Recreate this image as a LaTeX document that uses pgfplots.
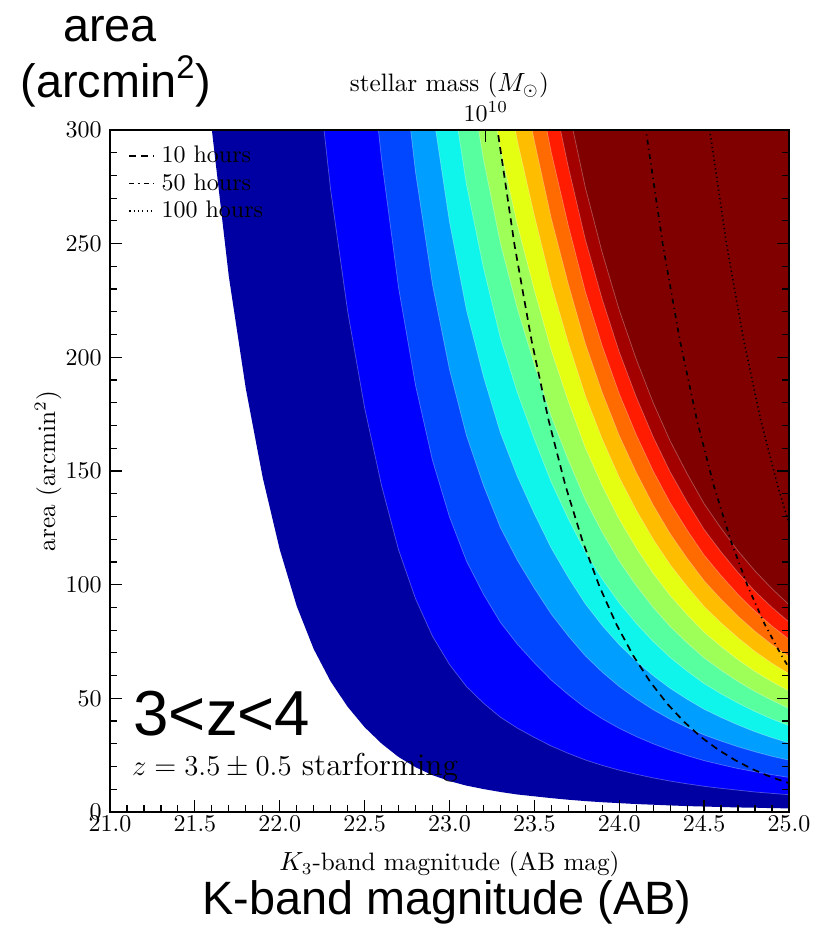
\documentclass[border=0pt]{standalone}
\usepackage{fontspec}
\usepackage{pgfplots}
\usepackage{pgfplotstable}
\pgfplotsset{compat=1.18}
\newfontfamily\arial{Liberation Sans}

\definecolor{c1}{rgb}{0,0,0.634}
\definecolor{c2}{rgb}{0,0,1}
\definecolor{c3}{rgb}{0,0.28,1}
\definecolor{c4}{rgb}{0,0.62,1}
\definecolor{c5}{rgb}{0.06,0.96,0.92}
\definecolor{c6}{rgb}{0.345,1,0.623}
\definecolor{c7}{rgb}{0.621,1,0.347}
\definecolor{c8}{rgb}{0.897,1,0.071}
\definecolor{c9}{rgb}{1,0.74,0}
\definecolor{c10}{rgb}{1,0.42,0}
\definecolor{c11}{rgb}{1,0.11,0}
\definecolor{c12}{rgb}{0.64,0,0}
\definecolor{c13}{rgb}{0.5,0,0}

% band boundaries: area (arcmin^2) versus K magnitude, values above the plot capped at 400
\pgfplotstableread{
m    b1    b2    b3    b4    b5    b6    b7    b8    b9    b10   b11   b12   b13
21.5 382.2 400   400   400   400   400   400   400   400   400   400   400   400
21.6 300.1 400   400   400   400   400   400   400   400   400   400   400   400
21.7 235.6 400   400   400   400   400   400   400   400   400   400   400   400
21.8 186.3 400   400   400   400   400   400   400   400   400   400   400   400
21.9 147.0 400   400   400   400   400   400   400   400   400   400   400   400
22.0 115.5 400   400   400   400   400   400   400   400   400   400   400   400
22.1 90.6  400   400   400   400   400   400   400   400   400   400   400   400
22.2 71.7  341.2 400   400   400   400   400   400   400   400   400   400   400
22.3 57.4  273.5 400   400   400   400   400   400   400   400   400   400   400
22.4 46.3  220.3 400   400   400   400   400   400   400   400   400   400   400
22.5 37.3  177.8 355.6 400   400   400   400   400   400   400   400   400   400
22.6 30.1  143.5 287.0 400   400   400   400   400   400   400   400   400   400
22.7 24.2  115.3 230.6 345.9 400   400   400   400   400   400   400   400   400
22.8 19.7  93.8  187.6 281.4 375.2 400   400   400   400   400   400   400   400
22.9 16.2  77.3  154.6 231.9 309.2 386.5 400   400   400   400   400   400   400
23.0 13.6  64.9  129.8 194.7 259.6 324.5 389.4 400   400   400   400   400   400
23.1 11.6  55.2  110.4 165.6 220.8 276.0 331.2 386.4 400   400   400   400   400
23.2 10.1  47.9  95.8  143.7 191.6 239.5 287.4 335.3 383.2 400   400   400   400
23.3 8.8   41.7  83.4  125.1 166.8 208.5 250.2 291.9 333.6 375.3 400   400   400
23.4 7.7   36.9  73.8  110.7 147.6 184.5 221.4 258.3 295.2 332.1 369.0 400   400
23.5 6.9   32.8  65.6  98.4  131.2 164.0 196.8 229.6 262.4 295.2 328.0 360.8 393.6
23.6 6.1   29.0  58.0  87.0  116.0 145.0 174.0 203.0 232.0 261.0 290.0 319.0 348.0
23.7 5.4   25.8  51.6  77.4  103.2 129.0 154.8 180.6 206.4 232.2 258.0 283.8 309.6
23.8 4.8   22.9  45.8  68.7  91.6  114.5 137.4 160.3 183.2 206.1 229.0 251.9 274.8
23.9 4.3   20.5  41.0  61.5  82.0  102.5 123.0 143.5 164.0 184.5 205.0 225.5 246.0
24.0 3.9   18.4  36.8  55.2  73.6  92.0  110.4 128.8 147.2 165.6 184.0 202.4 220.8
24.1 3.5   16.6  33.2  49.8  66.4  83.0  99.6  116.2 132.8 149.4 166.0 182.6 199.2
24.2 3.2   15.0  30.0  45.0  60.0  75.0  90.0  105.0 120.0 135.0 150.0 165.0 180.0
24.3 2.9   13.6  27.2  40.8  54.4  68.0  81.6  95.2  108.8 122.4 136.0 149.6 163.2
24.4 2.6   12.4  24.8  37.2  49.6  62.0  74.4  86.8  99.2  111.6 124.0 136.4 148.8
24.5 2.4   11.3  22.6  33.9  45.2  56.5  67.8  79.1  90.4  101.7 113.0 124.3 135.6
24.6 2.2   10.4  20.8  31.2  41.6  52.0  62.4  72.8  83.2  93.6  104.0 114.4 124.8
24.7 2.0   9.6   19.1  28.7  38.3  47.9  57.4  67.0  76.6  86.1  95.7  105.3 114.8
24.8 1.9   8.8   17.7  26.5  35.3  44.2  53.0  61.8  70.6  79.5  88.3  97.1  106.0
24.9 1.7   8.2   16.4  24.5  32.7  40.9  49.1  57.3  65.4  73.6  81.8  90.0  98.2
25.0 1.6   7.6   15.2  22.8  30.4  38.0  45.6  53.2  60.8  68.4  76.0  83.6  91.2
25.5 400   400   400   400   400   400   400   400   400   400   400   400   400
}\bands

\begin{document}
\begin{tikzpicture}
\useasboundingbox (-45.83pt,-47.5pt) rectangle (294.17pt,338.33pt);
\begin{axis}[
  width=282.9pt, height=284.2pt, scale only axis,
  xmin=21, xmax=25, ymin=0, ymax=300,
  xtick={21,21.5,22,22.5,23,23.5,24,24.5,25},
  ytick={0,50,100,150,200,250,300},
  minor x tick num=4, minor y tick num=4,
  xtick pos=left, ytick pos=both, yticklabel pos=left,
  tick align=inside,
  major tick length=5pt, minor tick length=2.8pt,
  every tick/.style={black, line width=0.5pt},
  axis line style={line width=0.8pt},
  axis on top,
  x tick label style={/pgf/number format/fixed, /pgf/number format/fixed zerofill, /pgf/number format/precision=1, yshift=2pt},
  xlabel={$K_3$-band magnitude (AB mag)},
  ylabel={area (arcmin$^2$)},
  xlabel style={at={(axis description cs:0.5,-0.0852)}, anchor=base, font=\fontsize{10.5}{12}\selectfont},
  ylabel style={at={(axis description cs:-0.0912,0.5)}, anchor=center, font=\fontsize{10.5}{12}\selectfont},
  legend style={draw=none, fill=none, at={(axis description cs:0,1)}, anchor=north west,
    xshift=7.5pt, yshift=-5pt, inner xsep=0pt, inner ysep=0pt, row sep=0pt, column sep=1.2pt,
    nodes={inner sep=1.5pt, text depth=0.15em}},
  legend cell align=left,
  legend image code/.code={\draw[#1] (0pt,0pt) -- (10.4pt,0pt);},
]
\addplot[fill=c1, draw=none, forget plot] table[x=m,y=b1]{\bands} -- cycle;
\addplot[fill=c2, draw=none, forget plot] table[x=m,y=b2]{\bands} -- cycle;
\addplot[fill=c3, draw=none, forget plot] table[x=m,y=b3]{\bands} -- cycle;
\addplot[fill=c4, draw=none, forget plot] table[x=m,y=b4]{\bands} -- cycle;
\addplot[fill=c5, draw=none, forget plot] table[x=m,y=b5]{\bands} -- cycle;
\addplot[fill=c6, draw=none, forget plot] table[x=m,y=b6]{\bands} -- cycle;
\addplot[fill=c7, draw=none, forget plot] table[x=m,y=b7]{\bands} -- cycle;
\addplot[fill=c8, draw=none, forget plot] table[x=m,y=b8]{\bands} -- cycle;
\addplot[fill=c9, draw=none, forget plot] table[x=m,y=b9]{\bands} -- cycle;
\addplot[fill=c10, draw=none, forget plot] table[x=m,y=b10]{\bands} -- cycle;
\addplot[fill=c11, draw=none, forget plot] table[x=m,y=b11]{\bands} -- cycle;
\addplot[fill=c12, draw=none, forget plot] table[x=m,y=b12]{\bands} -- cycle;
\addplot[fill=c13, draw=none, forget plot] table[x=m,y=b13]{\bands} -- cycle;
\foreach \k in {2,...,13}{
  \addplot[white, opacity=0.3, line width=0.3pt, forget plot] table[x=m,y=b\k]{\bands};
}
\addplot[black, line width=0.7pt, dash pattern=on 2.9pt off 2.1pt] coordinates {
(23.25,318.6) (23.283,300) (23.383,249.5) (23.483,207.6) (23.583,172.6) (23.683,143.6)
(23.783,119.4) (23.883,99.3) (23.983,82.6) (24.083,68.7) (24.183,57.2) (24.283,47.6)
(24.383,39.6) (24.483,32.9) (24.583,27.4) (24.683,22.8) (24.783,18.9) (24.883,15.7)
(24.983,13.1) (25.0,12.7)};
\addlegendentry{10 hours}
\addplot[black, line width=0.7pt, dash pattern=on 2pt off 1.8pt on 0.5pt off 1.8pt] coordinates {
(24.12,321.2) (24.157,300) (24.257,249.5) (24.357,207.6) (24.457,172.6) (24.557,143.6)
(24.657,119.4) (24.757,99.3) (24.857,82.6) (24.957,68.7) (25.0,63.5)};
\addlegendentry{50 hours}
\addplot[black, line width=0.7pt, dash pattern=on 0.5pt off 1.3pt] coordinates {
(24.5,318.9) (24.533,300) (24.633,249.5) (24.733,207.6) (24.833,172.6) (24.933,143.6) (25.0,126.9)};
\addlegendentry{100 hours}
\end{axis}
\begin{axis}[
  width=282.9pt, height=284.2pt, scale only axis,
  xmode=log, x dir=reverse, xmin=1.932e9, xmax=7.69e10,
  ymin=0, ymax=1,
  axis x line*=top, hide y axis,
  tick align=inside,
  major tick length=5pt, minor tick length=2.8pt,
  every tick/.style={black, line width=0.5pt},
  axis line style={line width=0.8pt},
  axis on top,
  xtick={1e10},
  xlabel={stellar mass ($M_\odot$)},
  xlabel style={at={(axis description cs:0.5,1.0556)}, anchor=base, font=\fontsize{10.5}{12}\selectfont},
]
\end{axis}
\node[anchor=base, font=\arial\fontsize{19.5}{23}\selectfont] at (0pt,321pt) {area};
\node[anchor=base, font=\arial\fontsize{19.5}{23}\selectfont] at (2.5pt,297.9pt) {(arcmin\textsuperscript{2})};
\node[anchor=base, font=\arial\fontsize{19.5}{23}\selectfont] at (140.4pt,-42.5pt) {K-band magnitude (AB)};
\node[anchor=base west, inner sep=0pt, font=\arial\fontsize{26.5}{31}\selectfont] at (9.6pt,32pt) {3<z<4};
\node[anchor=base west, inner sep=0pt, font=\fontsize{13.2}{16}\selectfont] at (9pt,15.4pt) {$z=3.5\pm0.5$ starforming};
\end{tikzpicture}
\end{document}
